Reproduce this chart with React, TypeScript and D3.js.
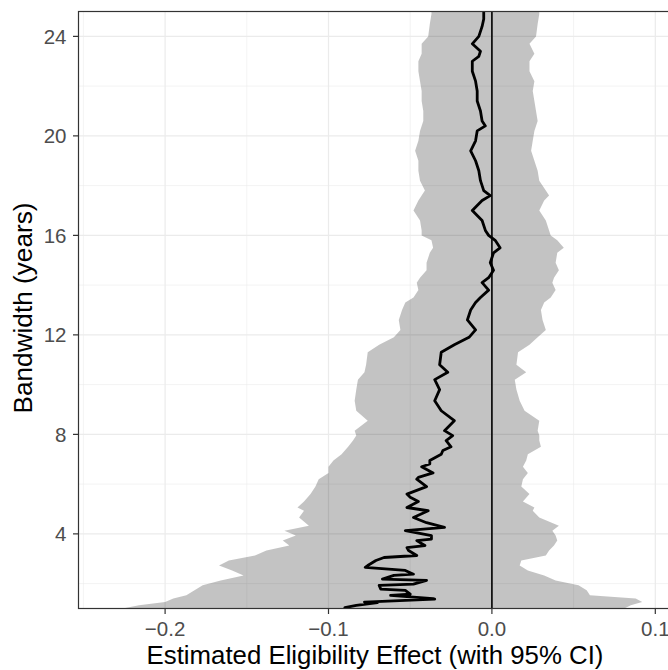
import React from "react";
import * as d3 from "d3";

// Ribbon: bandwidth (years), lower and upper 95% CI
const ribbonBw = [25.0, 24.9, 24.5, 24.0, 23.7, 23.3, 23.0, 22.6, 22.2, 21.8, 21.4, 21.0, 20.6, 20.4, 20.2, 19.8, 19.4, 19.0, 18.6, 18.2, 17.8, 17.6, 17.4, 17.0, 16.6, 16.2, 16.0, 15.8, 15.5, 15.3, 14.9, 14.6, 14.3, 14.1, 13.8, 13.5, 13.3, 13.0, 12.6, 12.2, 11.9, 11.6, 11.3, 10.8, 10.5, 10.2, 9.8, 9.35, 8.95, 8.55, 8.15, 7.95, 7.75, 7.5, 7.2, 6.95, 6.7, 6.45, 6.2, 5.9, 5.6, 5.3, 5.06, 4.93, 4.66, 4.33, 4.13, 3.93, 3.73, 3.53, 3.33, 3.13, 2.93, 2.73, 2.53, 2.33, 2.13, 1.93, 1.73, 1.53, 1.4, 1.26, 1.13, 1.0];
const ribbonLo = [-0.037, -0.037, -0.038, -0.039, -0.043, -0.043, -0.045, -0.045, -0.044, -0.043, -0.043, -0.042, -0.042, -0.043, -0.044, -0.045, -0.047, -0.045, -0.045, -0.044, -0.041, -0.043, -0.045, -0.048, -0.044, -0.043, -0.043, -0.037, -0.036, -0.038, -0.040, -0.040, -0.044, -0.046, -0.045, -0.048, -0.053, -0.055, -0.057, -0.056, -0.060, -0.069, -0.076, -0.077, -0.078, -0.082, -0.083, -0.084, -0.083, -0.076, -0.084, -0.083, -0.085, -0.088, -0.092, -0.097, -0.100, -0.100, -0.106, -0.108, -0.111, -0.115, -0.119, -0.115, -0.118, -0.112, -0.127, -0.120, -0.128, -0.124, -0.138, -0.145, -0.161, -0.167, -0.159, -0.152, -0.166, -0.177, -0.182, -0.187, -0.195, -0.200, -0.216, -0.226];
const ribbonHi = [0.029, 0.029, 0.028, 0.027, 0.023, 0.026, 0.023, 0.023, 0.026, 0.025, 0.026, 0.027, 0.028, 0.027, 0.026, 0.025, 0.024, 0.026, 0.028, 0.029, 0.033, 0.035, 0.032, 0.029, 0.033, 0.035, 0.036, 0.040, 0.044, 0.040, 0.039, 0.041, 0.038, 0.037, 0.039, 0.036, 0.032, 0.030, 0.031, 0.033, 0.028, 0.023, 0.016, 0.015, 0.021, 0.014, 0.015, 0.017, 0.020, 0.029, 0.028, 0.029, 0.029, 0.030, 0.022, 0.021, 0.019, 0.022, 0.019, 0.018, 0.023, 0.019, 0.026, 0.025, 0.029, 0.041, 0.037, 0.039, 0.040, 0.038, 0.035, 0.033, 0.018, 0.017, 0.022, 0.032, 0.039, 0.053, 0.058, 0.060, 0.088, 0.092, 0.085, 0.081];

// Point estimate of the eligibility effect by bandwidth
const lineBw = [25.0, 24.7, 24.4, 24.0, 23.7, 23.4, 23.2, 23.0, 22.6, 22.2, 21.8, 21.4, 21.0, 20.6, 20.4, 20.2, 19.8, 19.4, 19.0, 18.6, 18.2, 17.8, 17.6, 17.4, 17.0, 16.6, 16.2, 16.0, 15.8, 15.5, 15.3, 14.9, 14.6, 14.3, 14.1, 13.8, 13.5, 13.3, 13.0, 12.6, 12.2, 11.9, 11.6, 11.3, 10.8, 10.5, 10.2, 9.8, 9.35, 8.95, 8.55, 8.15, 7.95, 7.75, 7.5, 7.35, 7.2, 6.95, 6.81, 6.7, 6.45, 6.27, 6.2, 5.9, 5.6, 5.47, 5.3, 5.06, 4.93, 4.66, 4.45, 4.26, 4.13, 3.93, 3.79, 3.73, 3.53, 3.45, 3.33, 3.13, 3.05, 2.93, 2.73, 2.65, 2.53, 2.38, 2.33, 2.18, 2.13, 1.98, 1.93, 1.78, 1.73, 1.58, 1.53, 1.4, 1.38, 1.26, 1.24, 1.13, 1.04, 1.0];
const lineEst = [-0.005, -0.005, -0.006, -0.008, -0.012, -0.007, -0.008, -0.012, -0.012, -0.010, -0.009, -0.009, -0.007, -0.006, -0.004, -0.009, -0.010, -0.013, -0.010, -0.008, -0.007, -0.005, -0.001, -0.006, -0.012, -0.006, -0.004, -0.002, 0.002, 0.005, 0.001, -0.001, 0.001, -0.002, -0.006, -0.002, -0.007, -0.010, -0.013, -0.015, -0.010, -0.014, -0.023, -0.031, -0.032, -0.027, -0.035, -0.032, -0.035, -0.031, -0.023, -0.029, -0.024, -0.028, -0.025, -0.030, -0.031, -0.038, -0.038, -0.043, -0.036, -0.045, -0.046, -0.040, -0.052, -0.050, -0.045, -0.052, -0.039, -0.048, -0.040, -0.029, -0.053, -0.037, -0.037, -0.046, -0.041, -0.052, -0.051, -0.046, -0.066, -0.071, -0.076, -0.0775, -0.053, -0.048, -0.060, -0.067, -0.040, -0.048, -0.069, -0.068, -0.053, -0.050, -0.062, -0.036, -0.035, -0.078, -0.070, -0.083, -0.090, -0.090];

const xMajor = [-0.2, -0.1, 0.0, 0.1];
const xMinor = [-0.25, -0.15, -0.05, 0.05];
const yMajor = [4, 8, 12, 16, 20, 24];
const yMinor = [2, 6, 10, 14, 18, 22];

const xTitle = "Estimated Eligibility Effect (with 95% CI)";
const yTitle = "Bandwidth (years)";

export default function App() {
  const W = 668, H = 670;
  const left = 78.5, right = 671.5, top = 11.5, bottom = 608.5;
  const x = d3.scaleLinear().domain([-0.253, 0.10991]).range([left, right]);
  const y = d3.scaleLinear().domain([1, 25]).range([bottom, top]);

  const ribbon = ribbonBw.map((b, i) => ({ b, lo: ribbonLo[i], hi: ribbonHi[i] }));
  const line = lineBw.map((b, i) => ({ b, e: lineEst[i] }));
  const area = d3.area<any>().y((d) => y(d.b)).x0((d) => x(d.lo)).x1((d) => x(d.hi));
  const path = d3.line<any>().x((d) => x(d.e)).y((d) => y(d.b));
  const fmt = d3.format(".1f");
  const font = "'Liberation Sans', Arial, Helvetica, sans-serif";

  return (
    <svg width={W} height={H} style={{ position: "absolute", left: 0, top: 0, background: "white" }} fontFamily={font}>
      <defs>
        <clipPath id="panel">
          <rect x={left} y={top} width={right - left} height={bottom - top} />
        </clipPath>
      </defs>
      <rect x={0} y={0} width={W} height={H} fill="white" />
      <g clipPath="url(#panel)">
        {xMinor.map((v) => (
          <line key={"xm" + v} x1={x(v)} x2={x(v)} y1={top} y2={bottom} stroke="#EBEBEB" strokeWidth={0.6} />
        ))}
        {yMinor.map((v) => (
          <line key={"ym" + v} x1={left} x2={right} y1={y(v)} y2={y(v)} stroke="#EBEBEB" strokeWidth={0.6} />
        ))}
        {xMajor.map((v) => (
          <line key={"xM" + v} x1={x(v)} x2={x(v)} y1={top} y2={bottom} stroke="#EBEBEB" strokeWidth={1.2} />
        ))}
        {yMajor.map((v) => (
          <line key={"yM" + v} x1={left} x2={right} y1={y(v)} y2={y(v)} stroke="#EBEBEB" strokeWidth={1.2} />
        ))}
        <path d={area(ribbon) || ""} fill="black" fillOpacity={0.235} />
        <line x1={x(0)} x2={x(0)} y1={top} y2={bottom} stroke="black" strokeWidth={1.6} />
        <path d={path(line) || ""} fill="none" stroke="black" strokeWidth={2.8} strokeLinejoin="round" />
      </g>
      <rect x={left} y={top} width={right - left} height={bottom - top} fill="none" stroke="#333333" strokeWidth={1.2} />
      {yMajor.map((v) => (
        <g key={"yt" + v}>
          <line x1={left - 5.5} x2={left} y1={y(v)} y2={y(v)} stroke="#333333" strokeWidth={1.2} />
          <text x={left - 12} y={y(v)} dy="0.36em" textAnchor="end" fontSize={20.5} fill="#4D4D4D">{v}</text>
        </g>
      ))}
      {xMajor.map((v) => (
        <g key={"xt" + v}>
          <line x1={x(v)} x2={x(v)} y1={bottom} y2={bottom + 5.5} stroke="#333333" strokeWidth={1.2} />
          <text x={x(v)} y={636} textAnchor="middle" fontSize={20.5} fill="#4D4D4D">{fmt(v)}</text>
        </g>
      ))}
      <text x={(left + right) / 2} y={664} textAnchor="middle" fontSize={25.8} fill="black">{xTitle}</text>
      <text transform={`translate(32, 308) rotate(-90)`} textAnchor="middle" fontSize={26.2} fill="black">{yTitle}</text>
    </svg>
  );
}
